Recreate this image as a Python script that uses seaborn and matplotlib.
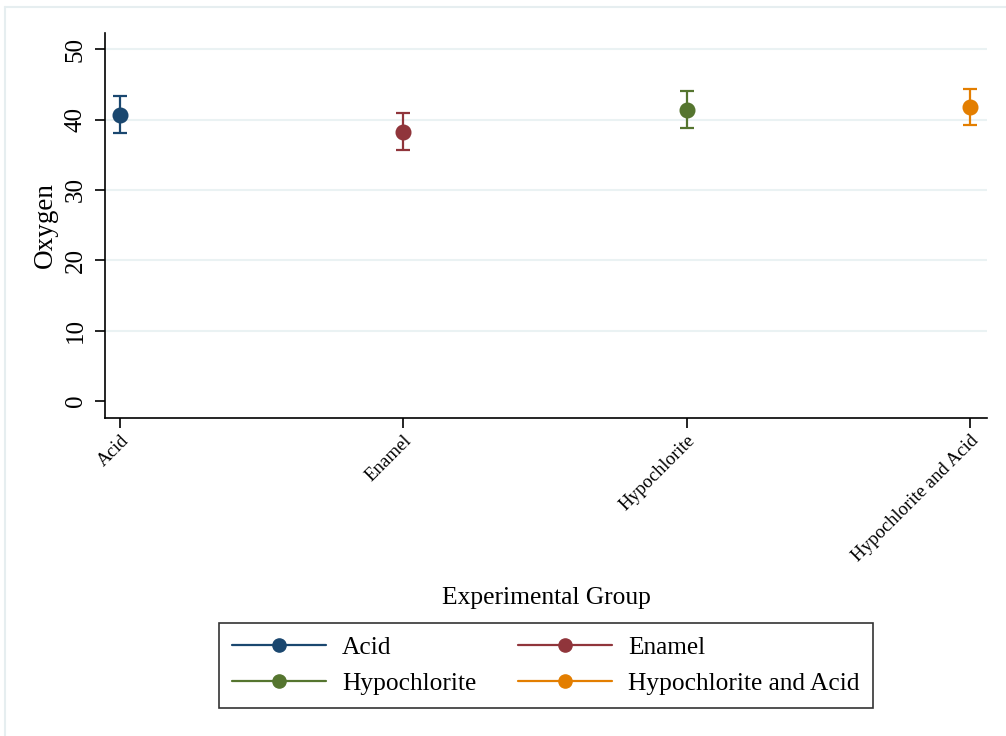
import matplotlib
matplotlib.use("Agg")
import matplotlib.pyplot as plt
from matplotlib.lines import Line2D
import numpy as np
import pandas as pd
import seaborn as sns

# values
groups = ["Acid", "Enamel", "Hypochlorite", "Hypochlorite and Acid"]
oxygen_mean = [40.7, 38.3, 41.4, 41.8]
ci_low = [38.1, 35.7, 38.8, 39.2]
ci_high = [43.3, 40.9, 44.0, 44.4]
colors = ["#1a476f", "#90353b", "#55752f", "#e37e00"]
yticks = [0, 10, 20, 30, 40, 50]

df = pd.DataFrame({"group": groups, "oxygen": oxygen_mean})

sns.set_style("white")
plt.rcParams["font.family"] = ["Liberation Serif", "DejaVu Serif"]
plt.rcParams["text.color"] = "black"
plt.rcParams["axes.labelcolor"] = "black"
plt.rcParams["xtick.color"] = "black"
plt.rcParams["ytick.color"] = "black"

fig = plt.figure(figsize=(10.06, 7.36), dpi=100)
ax = fig.add_axes([105 / 1006, 1 - 418 / 736, 882 / 1006, 385 / 736])

# error bars first, points on top
for i, g in enumerate(groups):
    ax.errorbar(i, oxygen_mean[i],
                yerr=[[oxygen_mean[i] - ci_low[i]], [ci_high[i] - oxygen_mean[i]]],
                fmt="none", ecolor=colors[i], elinewidth=1.6, capsize=5, capthick=1.6, zorder=3)

sns.pointplot(data=df, x="group", y="oxygen", hue="group", palette=colors,
              order=groups, hue_order=groups, errorbar=None, linestyle="none",
              markers="o", markersize=9.5, legend=False, ax=ax, zorder=4)

ax.set_xlim(-0.053, 3.06)
ax.set_ylim(-2.4, 52.3)
ax.set_yticks(yticks)
ax.set_yticklabels([str(v) for v in yticks], rotation=90, va="center", fontsize=18)
ax.set_xticks(range(len(groups)))
ax.set_xticklabels(groups, rotation=45, ha="right", va="top",
                   rotation_mode="anchor", fontsize=13.5)

for v in yticks[1:]:
    ax.axhline(v, color="#eaf2f3", lw=1.5, zorder=1)

for s in ["top", "right"]:
    ax.spines[s].set_visible(False)
for s in ["left", "bottom"]:
    ax.spines[s].set_color("black")
    ax.spines[s].set_linewidth(1.2)
ax.tick_params(axis="both", direction="out", length=7, width=1.2, color="black",
               bottom=True, left=True)
ax.tick_params(axis="y", pad=6)
ax.tick_params(axis="x", pad=3)

ax.set_xlabel("Experimental Group", fontsize=18.4)
ax.xaxis.set_label_coords(0.5, -0.44)
ax.set_ylabel("Oxygen", fontsize=19.5)
ax.yaxis.set_label_coords(-0.053, 0.5)

# row-major order like the reference legend
order = [0, 2, 1, 3]
handles = [Line2D([0], [0], color=colors[k], lw=1.6, marker="o", markersize=9.5) for k in order]
labels = [groups[k] for k in order]
leg = fig.legend(handles, labels, loc="center", bbox_to_anchor=(546 / 1006, 1 - 665.5 / 736),
                 ncol=2, fontsize=18.3, frameon=True, fancybox=False, handlelength=3.7,
                 columnspacing=1.65, borderpad=0.52, labelspacing=0.55, handletextpad=0.63)
leg.get_frame().set_edgecolor("black")
leg.get_frame().set_linewidth(1.2)

# faint outer graph-region frame
fig.add_artist(Line2D([5 / 1006, 1], [1 - 7 / 736, 1 - 7 / 736], transform=fig.transFigure,
                      color="#e6eef0", lw=1.5))
fig.add_artist(Line2D([5 / 1006, 5 / 1006], [0, 1 - 7 / 736], transform=fig.transFigure,
                      color="#e6eef0", lw=1.5))

fig.savefig("out.png", dpi=100)
